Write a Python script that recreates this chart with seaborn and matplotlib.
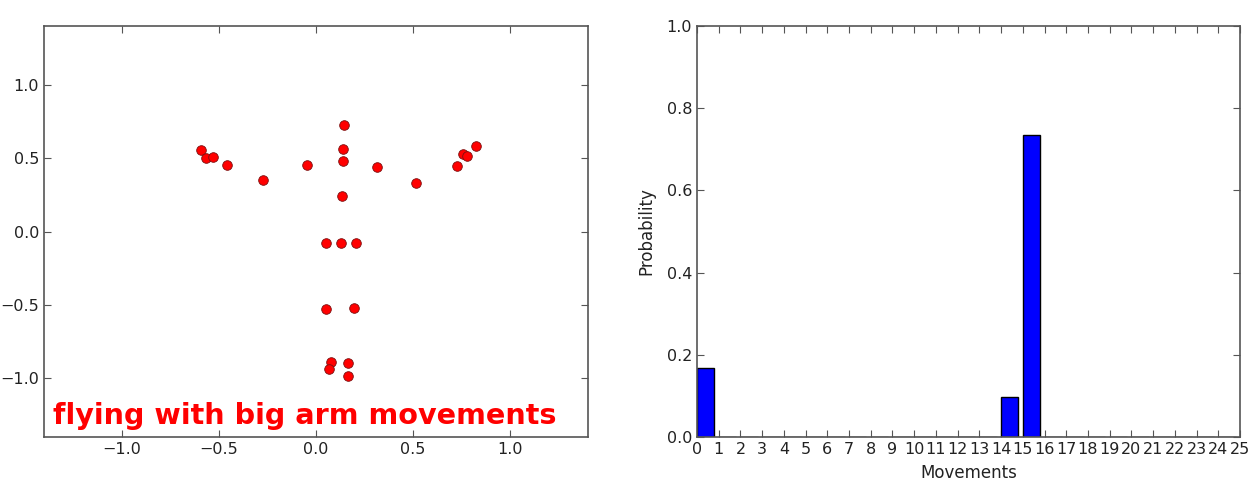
import matplotlib
matplotlib.use('Agg')
import matplotlib.pyplot as plt
import seaborn as sns
import numpy as np

# body joints (x, y)
joint_x = [-0.593, -0.568, -0.530, -0.460, -0.272, -0.045, 0.145, 0.138, 0.138, 0.313,
           0.132, 0.513, 0.725, 0.755, 0.779, 0.821,
           0.050, 0.127, 0.205, 0.050, 0.198, 0.075, 0.068, 0.164, 0.164]
joint_y = [0.556, 0.499, 0.506, 0.451, 0.352, 0.451, 0.723, 0.560, 0.483, 0.442,
           0.245, 0.331, 0.449, 0.528, 0.517, 0.585,
           -0.077, -0.077, -0.077, -0.526, -0.519, -0.889, -0.939, -0.896, -0.984]
movement_label = 'flying with big arm movements'

movements = list(range(25))
probs = [0.167, 0, 0, 0, 0, 0, 0, 0, 0, 0, 0, 0, 0, 0, 0.098, 0.735,
         0, 0, 0, 0, 0, 0, 0, 0, 0]

sns.set_style('white', rc={'axes.edgecolor': '#555555',
                           'xtick.direction': 'in', 'ytick.direction': 'in',
                           'xtick.top': True, 'ytick.right': True,
                           'xtick.bottom': True, 'ytick.left': True,
                           'xtick.color': '#555555', 'ytick.color': '#555555'})
plt.rcParams['font.family'] = ['DejaVu Sans']

fig = plt.figure(figsize=(12.48, 4.83), dpi=100)
ax1 = fig.add_axes([44 / 1248, 1 - 437 / 483, 544 / 1248, 411 / 483])
ax2 = fig.add_axes([697 / 1248, 1 - 437 / 483, 543 / 1248, 411 / 483])

# left: skeleton
sns.scatterplot(x=joint_x, y=joint_y, ax=ax1, color='red', s=48,
                edgecolor='#7a1010', linewidth=0.6, zorder=3)
ax1.set_xlim(-1.4, 1.4)
ax1.set_ylim(-1.4, 1.4)
ax1.set_xticks([-1.0, -0.5, 0.0, 0.5, 1.0])
ax1.set_yticks([-1.0, -0.5, 0.0, 0.5, 1.0])
ax1.text(-1.355, -1.31, movement_label, color='red', fontsize=20.6,
         fontweight='bold', va='baseline', ha='left')

# right: probability per movement
ax2.bar(movements, probs, width=0.8, align='edge', color='blue',
        edgecolor='black', linewidth=1)
ax2.set_xlim(0, 25)
ax2.set_ylim(0, 1.0)
ax2.set_xticks(range(26))
ax2.set_yticks([0.0, 0.2, 0.4, 0.6, 0.8, 1.0])
ax2.set_xlabel('Movements', fontsize=12, color='#222222', labelpad=5)
ax2.set_ylabel('Probability', fontsize=12, color='#222222', labelpad=8)

for ax in (ax1, ax2):
    ax.tick_params(length=5, width=0.8, labelsize=11.5, labelcolor='#222222')
    for sp in ax.spines.values():
        sp.set_linewidth(1.2)

fig.savefig('out.png', dpi=100)
